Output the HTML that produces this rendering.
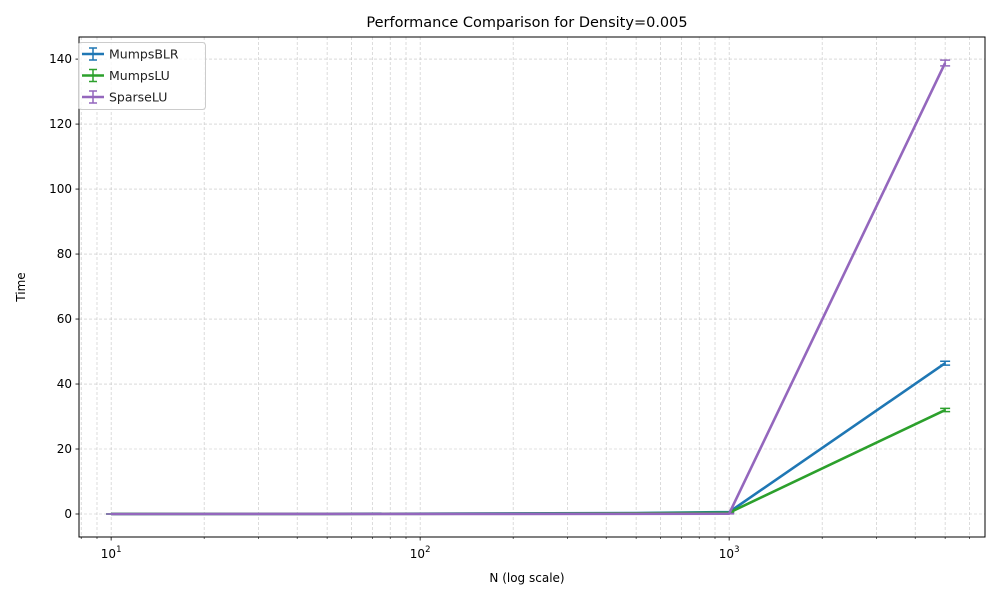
<!DOCTYPE html>
<html><head><meta charset="utf-8"><style>
body{margin:0;background:#fff;font-family:"Liberation Sans","DejaVu Sans",sans-serif}
</style></head><body>
<svg id="chart" width="1000" height="600" xmlns="http://www.w3.org/2000/svg" font-family="DejaVu Sans, Liberation Sans, sans-serif">
<rect width="1000" height="600" fill="#fff"/>
<g id="grid"></g>
<g id="series"></g>
<rect x="79" y="37" width="906" height="500" fill="none" stroke="#000" stroke-width="1"/>
<g id="ticks"></g>
<text x="527" y="27" text-anchor="middle" font-size="14.5">Performance Comparison for Density=0.005</text>
<text x="527" y="582" text-anchor="middle" font-size="12">N (log scale)</text>
<text x="25" y="287" text-anchor="middle" font-size="12" transform="rotate(-90 25 287)">Time</text>
<g id="legend"></g>
</svg>
<script>
const nValues = [10, 50, 100, 500, 1000, 5000];
const seriesNames = ["MumpsBLR", "MumpsLU", "SparseLU"];
const seriesColors = ["#1f77b4", "#2ca02c", "#9467bd"];
const blrTimes = [0.01, 0.05, 0.1, 0.3, 0.6, 46.4];
const luTimes = [0.01, 0.03, 0.06, 0.2, 0.4, 32.0];
const sparseTimes = [0.001, 0.005, 0.01, 0.05, 0.1, 138.8];
const blrErr = [0, 0, 0, 0, 0.1, 0.6];
const luErr = [0, 0, 0, 0, 0.1, 0.5];
const sparseErr = [0, 0, 0, 0, 0.05, 0.9];
const yTicks = [0, 20, 40, 60, 80, 100, 120, 140];
const xDecades = [1, 2, 3];

const NS = "http://www.w3.org/2000/svg";
const L = 79, R = 985, T = 37, B = 537;
const xMinLog = 0.896, xMaxLog = 3.828, yMin = -7.08, yMax = 146.8;
const xs = v => L + (Math.log10(v) - xMinLog) / (xMaxLog - xMinLog) * (R - L);
const ys = v => B - (v - yMin) / (yMax - yMin) * (B - T);
function mk(tag, attrs, parent) { const e = document.createElementNS(NS, tag); for (const k in attrs) e.setAttribute(k, attrs[k]); parent.appendChild(e); return e; }

const grid = document.getElementById("grid"), ticks = document.getElementById("ticks");
for (let d = 0; d <= 3; d++) for (let m = 1; m <= 9; m++) {
  const v = m * Math.pow(10, d), x = xs(v);
  if (x < L || x > R) continue;
  const gl = mk("line", {x1: x, x2: x, y1: T, y2: B, stroke: "#c4c4c4", "stroke-width": 0.6, "stroke-dasharray": "3,2"}, grid);
  
  
  const tk = mk("line", {x1: x, x2: x, y1: B, y2: B + (m === 1 ? 3.5 : 2), stroke: "#000", "stroke-width": m === 1 ? 0.8 : 0.6}, ticks);
  
  
}
xDecades.forEach(d => {
  const x = xs(Math.pow(10, d));
  const t = mk("text", {x: x, y: 558, "text-anchor": "middle", "font-size": 12}, ticks);
  
  
  t.textContent = "10";
  const s = mk("tspan", {dy: -6, "font-size": 8.5}, t); s.textContent = d;
});
yTicks.forEach(v => {
  const y = ys(v);
  const gl = mk("line", {x1: L, x2: R, y1: y, y2: y, stroke: "#c4c4c4", "stroke-width": 0.6, "stroke-dasharray": "3,2"}, grid);
  
  
  const tk = mk("line", {x1: L - 3.5, x2: L, y1: y, y2: y, stroke: "#000", "stroke-width": 0.8}, ticks);
  
  
  const t = mk("text", {x: L - 7, y: y + 4, "text-anchor": "end", "font-size": 12}, ticks);
  
  
  t.textContent = v;
});

const series = document.getElementById("series");
const allVals = [blrTimes, luTimes, sparseTimes], allErr = [blrErr, luErr, sparseErr];
allVals.forEach((vals, i) => {
  const g = mk("g", {}, series);
  
  
  const pts = nValues.map((n, j) => xs(n) + "," + ys(vals[j])).join(" ");
  const pl = mk("polyline", {points: pts, fill: "none", stroke: seriesColors[i], "stroke-width": 2.6, "stroke-linejoin": "round"}, g);
  
  
  nValues.forEach((n, j) => {
    const x = xs(n), e = allErr[i][j];
    const eb = mk("path", {d: `M${x},${ys(vals[j]-e)}V${ys(vals[j]+e)}M${x-5},${ys(vals[j]-e)}H${x+5}M${x-5},${ys(vals[j]+e)}H${x+5}`, stroke: seriesColors[i], "stroke-width": 1.5, fill: "none"}, g);
    
    
  });
});

const lg = document.getElementById("legend");
const box = mk("rect", {x: 78.5, y: 42.5, width: 127, height: 67, rx: 3, fill: "#fff", "fill-opacity": 0.8, stroke: "#ccc"}, lg);


seriesNames.forEach((nm, i) => {
  const y = 54 + i * 21.5;
  const g = mk("g", {}, lg);
  
  
  mk("line", {x1: 82, x2: 104, y1: y, y2: y, stroke: seriesColors[i], "stroke-width": 2.6}, g);
  mk("path", {d: `M93,${y-6}V${y+6}M89,${y-6}H97M89,${y+6}H97`, stroke: seriesColors[i], "stroke-width": 1.5, fill: "none"}, g);
  const t = mk("text", {x: 109, y: y + 4.5, "font-size": 12.5, fill: "#222"}, g);
  t.textContent = nm;
});
</script>
</body></html>
